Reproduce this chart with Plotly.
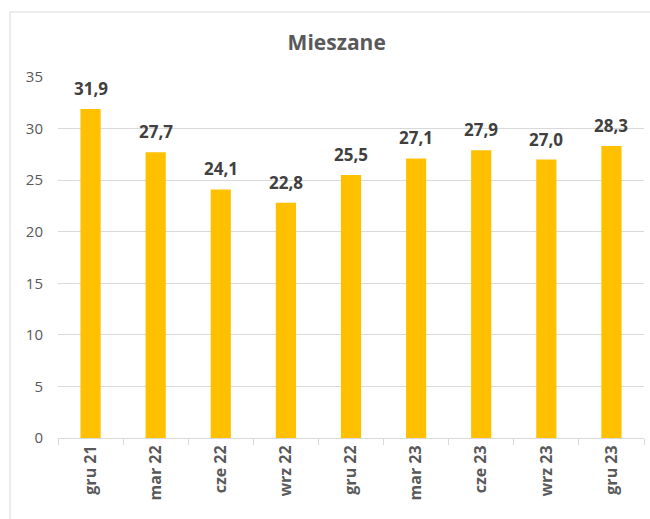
import plotly.graph_objects as go

categories = ["gru 21", "mar 22", "cze 22", "wrz 22", "gru 22", "mar 23", "cze 23", "wrz 23", "gru 23"]
values = [31.9, 27.7, 24.1, 22.8, 25.5, 27.1, 27.9, 27.0, 28.3]
y_ticks = [0, 5, 10, 15, 20, 25, 30, 35]
title_text = "Mieszane"

FONT = "Open Sans"
GRAY = "#595959"
DARK = "#404040"
GRID = "#d9d9d9"

ML, MR, MT, MB = 58, 6, 77, 81
PW, PH = 650 - ML - MR, 519 - MT - MB

fig = go.Figure()
fig.add_trace(go.Bar(
    x=categories, y=values,
    marker=dict(color="#FFC000", line=dict(width=0)),
    width=0.31,
    hoverinfo="skip",
))

for c, v in zip(categories, values):
    fig.add_annotation(
        x=c, y=v, text=f"{v:.1f}".replace(".", ","),
        showarrow=False, yanchor="bottom", yshift=7,
        font=dict(family=FONT, size=17, color=DARK, weight="bold"),
    )

bx = (10 - ML) / PW
by = 1 + (MT - 12) / PH

fig.update_layout(
    width=650, height=519,
    paper_bgcolor="white", plot_bgcolor="white",
    margin=dict(l=ML, r=MR, t=MT, b=MB),
    showlegend=False,
    title=dict(
        text=title_text, x=0.518, xanchor="center", y=0.918, yanchor="middle",
        font=dict(family=FONT, size=21, color=GRAY, weight="bold"),
    ),
    xaxis=dict(
        type="category",
        tickangle=-90,
        tickfont=dict(family=FONT, size=16, color=GRAY, weight="bold"),
        showline=True, linecolor=GRID, linewidth=1,
        ticks="outside", tickson="boundaries", ticklen=6, tickcolor=GRID,
        showgrid=False,
    ),
    yaxis=dict(
        range=[0, 35],
        tickvals=y_ticks,
        tickfont=dict(family=FONT, size=15, color=GRAY),
        showgrid=True, gridcolor=GRID, gridwidth=1,
        zeroline=False, showline=False, ticks="",
        ticklabelstandoff=14,
    ),
    shapes=[
        dict(type="line", xref="paper", yref="paper",
             x0=bx, x1=bx, y0=-0.5, y1=by,
             line=dict(color=GRID, width=1), layer="below"),
        dict(type="line", xref="paper", yref="paper",
             x0=bx, x1=1.3, y0=by, y1=by,
             line=dict(color=GRID, width=1), layer="below"),
    ],
)

fig.write_html(
    "out.html",
    config={"displayModeBar": False},
    post_script="document.body.style.margin='0';document.body.style.overflow='hidden';",
)
